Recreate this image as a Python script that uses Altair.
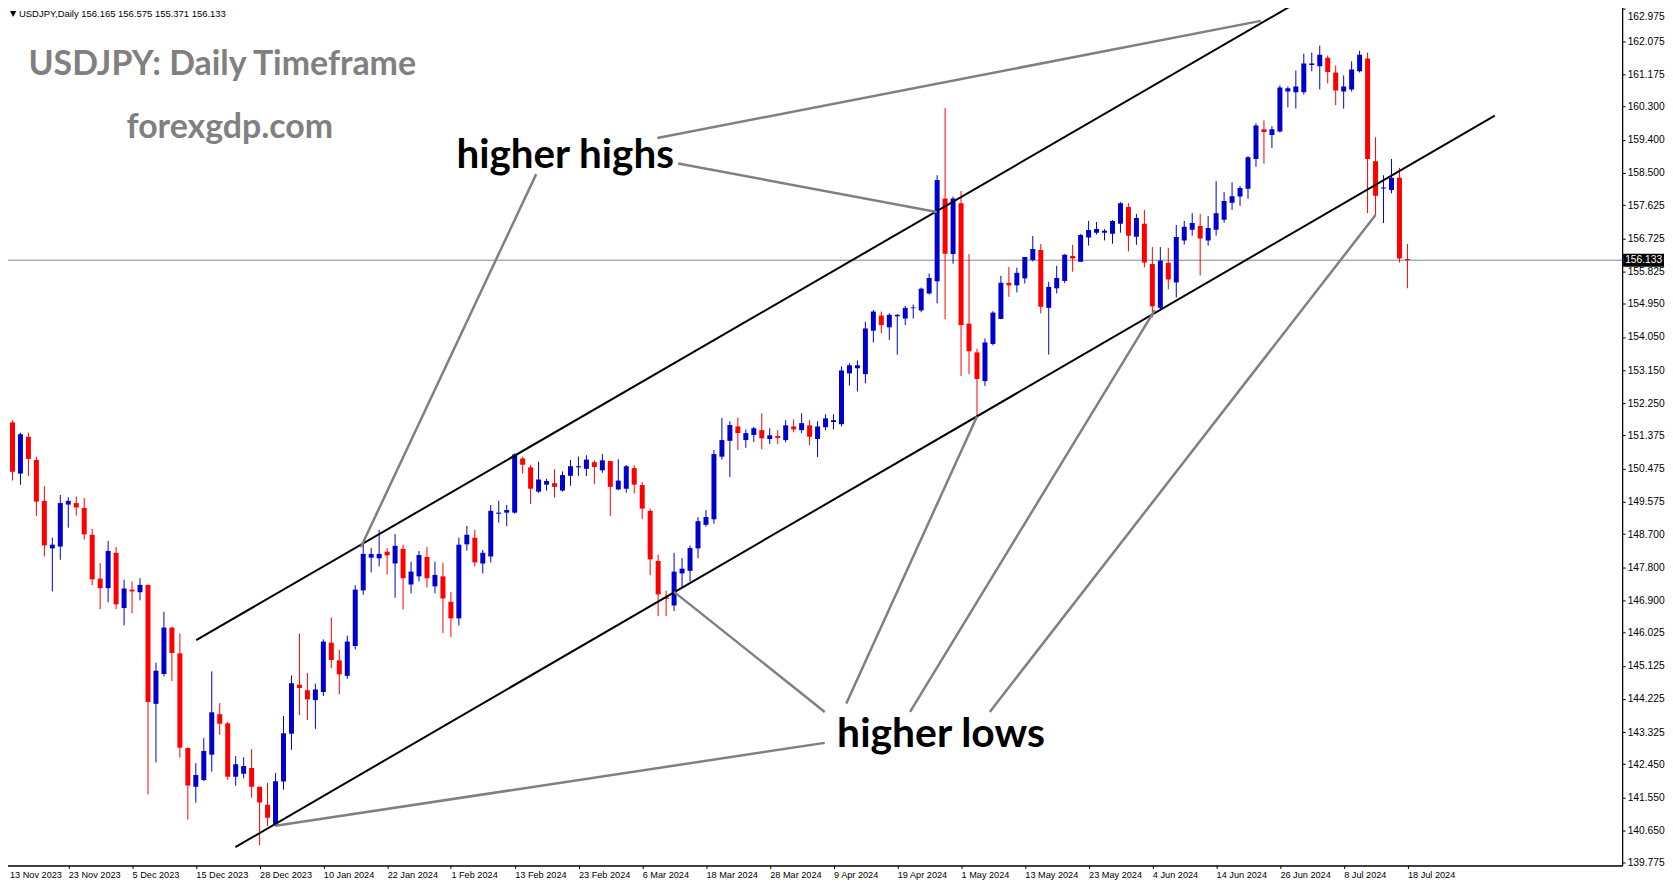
import altair as alt
import pandas as pd

# ---------------- data ----------------
date_labels = ["13 Nov 2023", "23 Nov 2023", "5 Dec 2023", "15 Dec 2023", "28 Dec 2023",
               "10 Jan 2024", "22 Jan 2024", "1 Feb 2024", "13 Feb 2024", "23 Feb 2024",
               "6 Mar 2024", "18 Mar 2024", "28 Mar 2024", "9 Apr 2024", "19 Apr 2024",
               "1 May 2024", "13 May 2024", "23 May 2024", "4 Jun 2024", "14 Jun 2024",
               "26 Jun 2024", "8 Jul 2024", "18 Jul 2024"]
date_ticks = [0, 8, 16, 24, 32, 40, 48, 56, 64, 72, 80, 88, 96, 104, 112, 120,
              128, 136, 144, 152, 160, 168, 176]

price_ticks = [162.975, 162.075, 161.175, 160.300, 159.400, 158.500, 157.625, 156.725,
               155.825, 154.950, 154.050, 153.150, 152.250, 151.375, 150.475, 149.575,
               148.700, 147.800, 146.900, 146.025, 145.125, 144.225, 143.325, 142.450,
               141.550, 140.650, 139.775]

opens = [151.44, 151.73, 150.34, 151.34, 150.71, 149.60, 148.31, 148.36, 149.50, 149.54,
         149.41, 148.68, 147.49, 147.23, 148.19, 146.69, 147.19, 147.12, 147.32, 144.09,
         144.90, 146.16, 145.46, 142.89, 141.84, 142.02, 142.71, 143.81, 143.56, 142.11,
         142.19, 142.35, 141.84, 141.35, 140.80, 141.98, 143.28, 144.61, 144.46, 144.19,
         144.41, 145.75, 145.27, 144.85, 145.66, 147.17, 148.06, 148.04, 148.22, 147.90,
         148.30, 147.33, 147.55, 148.08, 147.28, 147.55, 146.86, 146.41, 148.42, 148.60,
         147.90, 148.09, 149.25, 149.28, 149.28, 150.75, 150.51, 149.85, 150.04, 150.08,
         149.88, 150.28, 150.51, 150.47, 150.65, 150.43, 150.68, 149.91, 149.93, 150.49,
         150.03, 149.33, 147.97, 146.98, 146.76, 147.63, 147.70, 148.31, 148.95, 149.10,
         150.80, 151.23, 151.62, 151.25, 151.39, 151.52, 151.28, 151.36, 151.25, 151.62,
         151.52, 151.65, 151.28, 151.60, 151.74, 151.68, 153.06, 153.20, 153.04, 154.22,
         154.63, 154.31, 154.61, 154.55, 154.83, 154.77, 155.23, 155.56, 157.81, 156.30,
         157.68, 154.41, 153.63, 152.85, 153.86, 154.54, 155.52, 155.45, 155.64, 156.14,
         156.41, 154.84, 155.37, 155.57, 156.25, 156.09, 156.75, 156.88, 156.88, 156.85,
         157.12, 157.58, 156.77, 157.12, 156.03, 154.84, 156.06, 155.53, 156.67, 156.96,
         157.06, 156.67, 156.96, 157.23, 157.69, 157.86, 158.07, 158.88, 159.69, 159.53,
         159.63, 160.71, 160.69, 160.69, 161.43, 161.40, 161.63, 161.23, 160.71, 160.77,
         161.26, 161.61, 158.82, 158.08, 158.04, 158.37, 156.165]
highs = [151.92, 151.79, 151.45, 151.45, 150.80, 150.00, 148.60, 149.76, 149.70, 149.72,
         149.68, 148.84, 147.91, 148.51, 148.35, 147.46, 147.41, 147.50, 147.33, 145.21,
         146.59, 146.18, 146.00, 142.91, 142.48, 143.16, 144.97, 144.11, 143.60, 142.67,
         142.64, 142.86, 141.84, 141.94, 142.21, 143.76, 144.86, 146.00, 144.93, 144.64,
         145.84, 146.43, 145.56, 145.94, 147.31, 148.45, 148.32, 148.81, 148.32, 148.70,
         148.41, 147.95, 148.24, 148.35, 147.95, 147.92, 147.13, 148.60, 148.92, 148.81,
         148.27, 149.49, 149.60, 149.49, 150.89, 150.80, 150.58, 150.66, 150.20, 150.46,
         150.40, 150.71, 150.80, 150.84, 150.70, 150.87, 150.68, 150.73, 150.57, 150.57,
         150.11, 149.39, 148.14, 147.16, 148.19, 148.05, 148.39, 149.16, 149.35, 150.98,
         151.85, 151.76, 151.86, 151.54, 151.61, 151.98, 151.57, 151.52, 151.79, 151.81,
         151.98, 151.79, 151.76, 151.95, 151.95, 153.25, 153.33, 153.41, 154.46, 154.78,
         154.74, 154.69, 154.67, 154.89, 154.93, 155.39, 155.77, 158.44, 160.26, 157.86,
         158.01, 156.30, 153.73, 154.01, 154.75, 155.71, 155.95, 155.93, 156.22, 156.79,
         156.57, 155.55, 155.98, 156.30, 156.55, 156.85, 157.20, 157.17, 156.98, 157.22,
         157.71, 157.68, 157.39, 157.50, 156.49, 156.49, 156.47, 157.09, 157.20, 157.41,
         157.39, 157.33, 158.28, 157.98, 158.25, 158.15, 158.96, 159.85, 159.93, 159.77,
         160.88, 160.85, 161.28, 161.74, 161.77, 161.96, 161.69, 161.42, 161.15, 161.53,
         161.82, 161.77, 159.47, 158.44, 158.88, 158.64, 156.575]
lows = [151.20, 150.15, 150.04, 150.27, 149.19, 148.09, 147.14, 148.00, 148.87, 149.20,
        148.55, 147.31, 146.66, 146.85, 146.66, 146.22, 146.55, 146.90, 141.63, 142.50,
        144.83, 144.71, 142.63, 140.95, 141.41, 141.99, 142.25, 143.25, 142.03, 141.87,
        142.07, 141.54, 140.25, 140.77, 140.77, 141.76, 142.84, 143.78, 143.65, 143.41,
        144.30, 145.06, 144.35, 144.77, 145.57, 147.05, 147.66, 147.82, 147.60, 146.97,
        146.65, 147.09, 147.41, 147.25, 147.09, 146.01, 145.90, 146.22, 148.25, 147.82,
        147.63, 147.93, 149.01, 148.92, 149.25, 150.34, 149.51, 149.82, 149.88, 149.69,
        149.85, 150.01, 150.28, 150.27, 150.06, 150.36, 149.19, 149.89, 149.82, 149.80,
        149.10, 147.58, 146.47, 146.47, 146.61, 147.23, 147.41, 148.04, 148.90, 148.98,
        150.72, 150.25, 150.98, 151.04, 151.20, 151.00, 151.14, 151.14, 151.19, 151.46,
        151.44, 151.11, 150.79, 151.52, 151.54, 151.62, 152.73, 152.57, 152.79, 153.90,
        154.15, 153.97, 153.57, 154.37, 154.55, 154.72, 155.20, 154.96, 154.53, 156.04,
        152.99, 153.04, 151.88, 152.72, 153.82, 154.53, 155.14, 155.26, 155.50, 156.10,
        154.69, 153.57, 155.23, 155.51, 155.82, 156.09, 156.53, 156.83, 156.67, 156.58,
        156.88, 156.37, 156.55, 155.94, 154.58, 154.81, 155.34, 155.12, 156.56, 156.80,
        155.72, 156.53, 156.80, 157.15, 157.50, 157.61, 157.80, 158.67, 158.75, 159.18,
        159.60, 160.28, 160.25, 160.63, 161.26, 160.77, 160.93, 160.34, 160.25, 160.71,
        161.23, 157.41, 157.36, 157.14, 157.95, 156.07, 155.371]
closes = [151.74, 150.39, 151.41, 150.74, 149.58, 148.39, 148.41, 149.54, 149.60, 149.42,
          148.69, 147.47, 147.23, 148.24, 146.79, 147.22, 147.14, 147.32, 144.14, 144.99,
          146.16, 145.47, 142.90, 141.87, 142.16, 142.81, 143.86, 143.55, 142.11, 142.45,
          142.40, 141.84, 141.41, 141.00, 141.99, 143.29, 144.65, 144.52, 144.21, 144.48,
          145.78, 145.28, 144.89, 145.78, 147.19, 148.16, 148.16, 148.16, 148.12, 148.38,
          147.50, 147.68, 148.13, 147.50, 147.59, 146.95, 146.41, 148.41, 148.68, 147.93,
          148.19, 149.33, 149.28, 149.35, 150.86, 150.58, 149.93, 150.18, 150.14, 149.98,
          150.30, 150.54, 150.54, 150.72, 150.52, 150.70, 149.98, 150.15, 150.54, 150.04,
          149.39, 148.01, 147.06, 146.94, 147.68, 147.76, 148.32, 149.05, 149.16, 150.87,
          151.25, 151.66, 151.44, 151.44, 151.57, 151.30, 151.38, 151.31, 151.65, 151.54,
          151.71, 151.34, 151.62, 151.84, 151.79, 153.14, 153.28, 153.28, 154.28, 154.74,
          154.37, 154.65, 154.65, 154.84, 154.85, 155.36, 155.65, 158.31, 156.31, 157.81,
          154.37, 153.66, 152.91, 153.90, 154.71, 155.52, 155.45, 155.79, 156.22, 156.44,
          154.87, 155.41, 155.65, 156.28, 156.18, 156.82, 156.95, 156.98, 156.93, 157.20,
          157.68, 156.80, 157.28, 156.07, 154.88, 156.12, 155.61, 156.76, 157.04, 157.14,
          156.72, 157.01, 157.41, 157.74, 157.87, 158.09, 158.93, 159.79, 159.61, 159.69,
          160.82, 160.80, 160.85, 161.47, 161.47, 161.71, 161.24, 160.74, 160.85, 161.31,
          161.71, 158.88, 157.88, 158.11, 158.37, 156.18, 156.133]

# channel lines (bar index, price)
channel_x1 = [24.05, 28.96]
channel_y1 = [145.82, 140.20]
channel_x2 = [161.9, 186.96]
channel_y2 = [163.10, 160.06]

# grey pointer lines
pointer_x1 = [81.9, 84.5, 66.7, 102.9, 102.9, 105.6, 113.6, 123.6]
pointer_y1 = [159.45, 158.76, 158.47, 143.03, 143.87, 144.10, 143.87, 143.87]
pointer_x2 = [157.6, 116.95, 44.7, 34.0, 84.0, 122.0, 144.3, 172.0]
pointer_y2 = [162.63, 157.44, 148.34, 140.78, 147.13, 151.89, 154.78, 157.36]

title_texts = ["USDJPY: Daily Timeframe", "forexgdp.com"]
title_x = [3.0, 15.3]
title_y = [161.17, 159.44]

note_texts = ["higher highs", "higher lows"]
note_x = [56.7, 104.45]
note_y = [158.64, 142.92]

# ---------------- chart ----------------
W, H = 1625, 866
BULL, BEAR = "#0000CD", "#FF0000"
AX_FONT = "Liberation Sans"

candles = pd.DataFrame({"idx": list(range(len(opens))), "open": opens, "high": highs,
                        "low": lows, "close": closes})
channels = pd.DataFrame({"x1": channel_x1, "y1": channel_y1, "x2": channel_x2, "y2": channel_y2})
pointers = pd.DataFrame({"x1": pointer_x1, "y1": pointer_y1, "x2": pointer_x2, "y2": pointer_y2})
titles = pd.DataFrame({"t": title_texts, "x": title_x, "y": title_y})
notes = pd.DataFrame({"t": note_texts, "x": note_x, "y": note_y})
last = pd.DataFrame({"p": [closes[-1]], "lbl": [f"{closes[-1]:.3f}"]})
header = pd.DataFrame({"t": [f"USDJPY,Daily  {opens[-1]:.3f} {highs[-1]:.3f} "
                             f"{lows[-1]:.3f} {closes[-1]:.3f}"]})

xs = alt.Scale(domain=[-0.1875, 202.9375], nice=False, zero=False, padding=0)
ys = alt.Scale(domain=[139.702, 163.126], nice=False, zero=False, padding=0)

label_expr = "[" + ",".join(f"'{d}'" for d in date_labels) + "][round(datum.value / 8)]"
xax = alt.Axis(values=date_ticks, labelExpr=label_expr, title=None, grid=False,
               tickSize=3, tickColor="black", domainColor="black", labelAlign="left",
               labelPadding=2, labelFont=AX_FONT, labelFontSize=9.2, labelColor="black",
               labelOffset={"condition": {"test": "datum.value < 1", "value": 5},
                            "value": 0},
               labelOverlap=False, labelFlush=False, labelBound=False)
yax = alt.Axis(orient="right", values=price_ticks, format=".3f", title=None, grid=False,
               tickSize=3, tickColor="black", domainColor="black", labelPadding=2,
               labelFont=AX_FONT, labelFontSize=10.3, labelColor="black",
               labelOffset={"condition": {"test": "datum.value > 162.9", "value": 8},
                            "value": 0},
               labelOverlap=False, labelFlush=False, labelBound=False)

color = alt.condition("datum.close >= datum.open", alt.value(BULL), alt.value(BEAR))

wicks = alt.Chart(candles).mark_rule(strokeWidth=1, clip=True).encode(
    x=alt.X("idx:Q", scale=xs, axis=xax),
    y=alt.Y("low:Q", scale=ys, axis=yax),
    y2="high:Q",
    color=color,
)
bodies = alt.Chart(candles).mark_bar(size=5, clip=True).encode(
    x=alt.X("idx:Q", scale=xs, axis=xax),
    y=alt.Y("open:Q", scale=ys, axis=yax),
    y2="close:Q",
    color=color,
)

bid_line = alt.Chart(last).mark_rule(color="#778899", strokeWidth=1).encode(
    x=alt.value(0), x2=alt.value(W),
    y=alt.Y("p:Q", scale=ys, axis=yax),
)

channel_lines = alt.Chart(channels).mark_rule(color="black", strokeWidth=2, clip=True).encode(
    x=alt.X("x1:Q", scale=xs, axis=xax), y=alt.Y("y1:Q", scale=ys, axis=yax),
    x2="x2:Q", y2="y2:Q",
)
pointer_lines = alt.Chart(pointers).mark_rule(color="#808080", strokeWidth=2.5, clip=True).encode(
    x=alt.X("x1:Q", scale=xs, axis=xax), y=alt.Y("y1:Q", scale=ys, axis=yax),
    x2="x2:Q", y2="y2:Q",
)

title_marks = alt.Chart(titles).mark_text(
    align="left", baseline="alphabetic", font="Lato", fontWeight="bold", fontSize=34,
    color="#808080",
).encode(x=alt.X("x:Q", scale=xs, axis=xax), y=alt.Y("y:Q", scale=ys, axis=yax), text="t:N")

note_big = alt.Chart(notes).transform_filter("datum.t == 'higher highs'").mark_text(
    align="left", baseline="alphabetic", font="Lato", fontWeight="bold", fontSize=40.5,
    color="black",
).encode(x=alt.X("x:Q", scale=xs, axis=xax), y=alt.Y("y:Q", scale=ys, axis=yax), text="t:N")
note_low = alt.Chart(notes).transform_filter("datum.t == 'higher lows'").mark_text(
    align="left", baseline="alphabetic", font="Lato", fontWeight="bold", fontSize=41,
    color="black",
).encode(x=alt.X("x:Q", scale=xs, axis=xax), y=alt.Y("y:Q", scale=ys, axis=yax), text="t:N")

header_tri = alt.Chart(header).mark_text(
    text="▼", align="left", baseline="alphabetic", font="DejaVu Sans", fontSize=8,
    color="black",
).encode(x=alt.value(7), y=alt.value(13))
header_txt = alt.Chart(header).mark_text(
    align="left", baseline="alphabetic", font=AX_FONT, fontSize=9.5, color="black",
).encode(x=alt.value(16), y=alt.value(14), text="t:N")

price_box = alt.Chart(last).mark_tick(
    color="black", size=41, thickness=13, opacity=1, orient="horizontal",
).encode(x=alt.value(W + 21.5), y=alt.Y("p:Q", scale=ys, axis=yax))
price_txt = alt.Chart(last).mark_text(
    align="left", baseline="middle", font=AX_FONT, fontSize=10.3, color="white",
).encode(x=alt.value(W + 3), y=alt.Y("p:Q", scale=ys, axis=yax), text="lbl:N")

chart = alt.layer(
    bid_line, wicks, bodies, channel_lines, pointer_lines,
    title_marks, note_big, note_low, header_tri, header_txt, price_box, price_txt,
).properties(
    width=W, height=H, background="white",
    padding={"left": -6, "top": -7, "right": 0, "bottom": 0},
).configure_view(stroke="black", strokeWidth=1)

chart.save("out.html", embed_options={"renderer": "svg", "actions": False})
